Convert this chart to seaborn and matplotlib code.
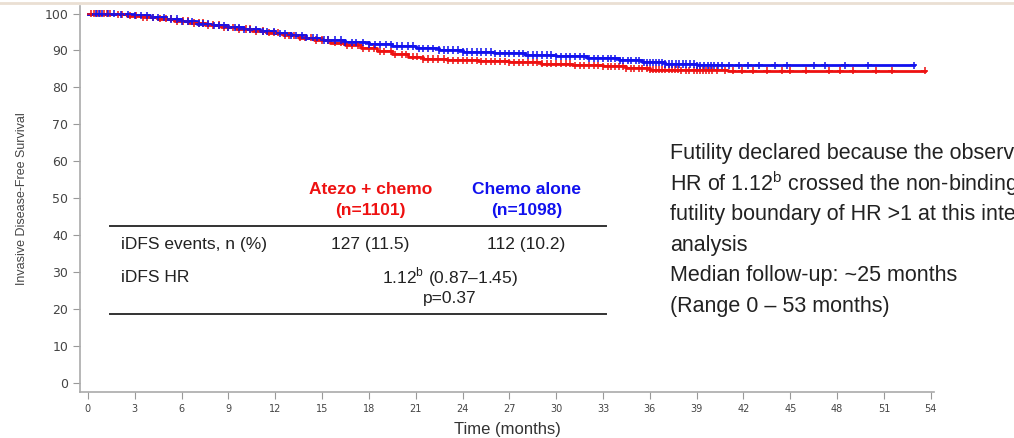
import numpy as np
import pandas as pd
import matplotlib.pyplot as plt
import seaborn as sns

# Kaplan-Meier step curves (months, % iDFS)
atezo_t = [0, 1.5, 2.5, 3.5, 4.5, 5.5, 6.5, 7.5, 8.5, 9.5, 10.5, 11.5, 12.5, 13.5, 14.5, 15.5,
           16.5, 17.5, 18.5, 19.5, 20.5, 21.5, 23, 25, 27, 29, 31, 33, 34.5, 36, 38, 41, 53.6]
atezo_s = [100, 99.8, 99.4, 99.0, 98.6, 98.0, 97.4, 96.9, 96.3, 95.8, 95.3, 94.8, 94.1, 93.5, 92.8, 92.1,
           91.4, 90.6, 89.8, 89.0, 88.3, 87.7, 87.3, 87.1, 86.8, 86.4, 86.0, 85.7, 85.2, 84.8, 84.6, 84.5, 84.5]
chemo_t = [0, 2, 3, 4, 5, 6, 7, 8, 9, 10, 11, 12, 13, 14, 15, 16.5, 18, 19.5, 21, 22.5, 24, 26,
           28, 30, 32, 34, 35.5, 37, 39, 52.9]
chemo_s = [100, 99.8, 99.5, 99.0, 98.5, 97.9, 97.3, 96.8, 96.3, 95.7, 95.2, 94.6, 94.1, 93.5, 92.8, 92.2,
           91.7, 91.2, 90.6, 90.1, 89.6, 89.2, 88.8, 88.4, 87.9, 87.3, 86.8, 86.3, 86.0, 86.0]

# censoring times (+ marks)
atezo_cens = [0.2, 0.4, 0.6, 0.8, 1.0, 1.2, 1.4, 1.9, 2.2, 2.7, 3.1, 3.5, 3.8, 4.2, 4.6, 5.0, 5.3, 5.7,
              6.1, 6.4, 6.8, 7.1, 7.4, 7.7, 8.0, 8.4, 8.7, 9.0, 9.3, 9.7, 10.1, 10.4, 10.8, 11.2, 11.6,
              11.9, 12.2, 12.6, 12.9, 13.2, 13.6, 13.9, 14.3, 14.6, 15.0, 15.4, 15.8, 16.2, 16.6, 16.9,
              17.3, 17.6, 18.0, 18.3, 18.7, 19.0, 19.4, 19.7, 20.1, 20.4, 20.8, 21.1, 21.5, 21.8, 22.1,
              22.4, 22.8, 23.1, 23.4, 23.7, 24.0, 24.3, 24.6, 24.9, 25.2, 25.5, 25.8, 26.1, 26.4, 26.7,
              27.0, 27.3, 27.6, 27.9, 28.2, 28.5, 28.8, 29.1, 29.4, 29.7, 30.0, 30.3, 30.6, 30.9, 31.2,
              31.5, 31.8, 32.1, 32.4, 32.7, 33.0, 33.3, 33.5, 33.8, 34.0, 34.3, 34.5, 34.8, 35.0, 35.3,
              35.5, 35.8, 36.0, 36.2, 36.4, 36.6, 36.8, 37.0, 37.2, 37.4, 37.6, 37.8, 38.0, 38.3, 38.5,
              38.8, 39.0, 39.2, 39.4, 39.6, 39.8, 40.0, 40.3, 40.8, 41.3, 41.9, 42.6, 43.5, 44.5, 45.0,
              46.0, 47.5, 48.2, 49.0, 50.5, 51.5, 53.6]
chemo_cens = [0.5, 0.7, 0.9, 1.3, 1.7, 2.1, 2.6, 3.0, 3.4, 3.8, 4.2, 4.5, 4.9, 5.3, 5.7, 6.0, 6.4, 6.7,
              7.1, 7.4, 7.7, 8.1, 8.4, 8.7, 9.0, 9.4, 9.7, 10.0, 10.4, 10.8, 11.2, 11.5, 11.9, 12.3,
              12.6, 13.0, 13.3, 13.7, 14.0, 14.4, 14.7, 15.1, 15.4, 15.8, 16.2, 16.5, 16.9, 17.2, 17.6,
              18.0, 18.4, 18.7, 19.1, 19.4, 19.8, 20.1, 20.5, 20.8, 21.2, 21.5, 21.8, 22.1, 22.5, 22.8,
              23.1, 23.4, 23.7, 24.0, 24.3, 24.6, 24.9, 25.2, 25.5, 25.8, 26.1, 26.4, 26.7, 27.0, 27.3,
              27.6, 27.9, 28.2, 28.5, 28.8, 29.1, 29.4, 29.7, 30.0, 30.3, 30.6, 30.9, 31.2, 31.5, 31.8,
              32.1, 32.4, 32.7, 33.0, 33.3, 33.5, 33.8, 34.1, 34.3, 34.6, 34.8, 35.1, 35.3, 35.6, 35.8,
              36.0, 36.2, 36.4, 36.6, 36.8, 37.0, 37.2, 37.4, 37.7, 37.9, 38.1, 38.3, 38.6, 38.8, 39.0,
              39.2, 39.5, 39.7, 39.9, 40.1, 40.4, 40.6, 41.1, 41.7, 42.3, 43.0, 44.0, 44.8, 46.5, 47.2,
              48.5, 50.0, 52.9]

arms = ["Atezo + chemo", "Chemo alone"]
arm_n = [1101, 1098]
arm_colors = ["#ee1111", "#1111ee"]
events = ["127 (11.5)", "112 (10.2)"]
x_ticks = list(range(0, 55, 3))
y_ticks = list(range(0, 101, 10))

plt.rcParams['font.family'] = ['Liberation Sans', 'DejaVu Sans']
plt.rcParams['mathtext.fontset'] = 'custom'
plt.rcParams['mathtext.rm'] = 'Liberation Sans'

def surv_at(t, times, surv):
    idx = np.searchsorted(times, t, side='right') - 1
    return np.asarray(surv)[idx]

curves = pd.concat([
    pd.DataFrame({'time': atezo_t, 'surv': atezo_s, 'arm': arms[0]}),
    pd.DataFrame({'time': chemo_t, 'surv': chemo_s, 'arm': arms[1]}),
])
marks = pd.concat([
    pd.DataFrame({'time': atezo_cens, 'surv': surv_at(atezo_cens, atezo_t, atezo_s), 'arm': arms[0]}),
    pd.DataFrame({'time': chemo_cens, 'surv': surv_at(chemo_cens, chemo_t, chemo_s), 'arm': arms[1]}),
])
palette = dict(zip(arms, arm_colors))

fig = plt.figure(figsize=(10.14, 4.38), dpi=100)
ax = fig.add_axes([0.079, 0.105, 0.842, 0.881])

sns.lineplot(data=curves, x='time', y='surv', hue='arm', palette=palette, drawstyle='steps-post',
             linewidth=2, legend=False, ax=ax, estimator=None, sort=False)
sns.scatterplot(data=marks, x='time', y='surv', hue='arm', palette=palette, marker='+', s=28,
                linewidth=1.3, alpha=0.85, legend=False, ax=ax, zorder=3)

ax.set_xlim(-0.5, 54.2)
ax.set_ylim(-2.4, 102)
ax.set_xticks(x_ticks)
ax.set_yticks(y_ticks)
ax.tick_params(axis='x', labelsize=7, colors='#999999', labelcolor='#444444', length=5, direction='out')
ax.tick_params(axis='y', labelsize=9, colors='#999999', labelcolor='#444444', length=5, direction='out')
for lab in ax.get_xticklabels() + ax.get_yticklabels():
    lab.set_fontfamily('DejaVu Sans')
for side in ['top', 'right']:
    ax.spines[side].set_visible(False)
for side in ['left', 'bottom']:
    ax.spines[side].set_color('#aaaaaa')
    ax.spines[side].set_linewidth(1.2)
ax.set_xlabel('Time (months)', fontsize=12, color='#333333', labelpad=6)
ax.set_ylabel('Invasive Disease-Free Survival', fontsize=9, color='#444444', labelpad=12)

# results table inside the plot
tbl_x0, tbl_x1 = 1.4, 33.2
col_x = [18.1, 28.1]
ax.plot([tbl_x0, tbl_x1], [42.4, 42.4], color='#333333', lw=1.4)
ax.plot([tbl_x0, tbl_x1], [18.6, 18.6], color='#333333', lw=1.4)
for cx, name, n, c, ev in zip(col_x, arms, arm_n, arm_colors, events):
    ax.text(cx, 52.4, name, color=c, fontsize=12.5, fontweight='bold', ha='center', va='center')
    ax.text(cx, 46.8, f"(n={n})", color=c, fontsize=12.5, fontweight='bold', ha='center', va='center')
    ax.text(cx, 37.6, ev, color='#222222', fontsize=12.5, ha='center', va='center')
ax.text(2.1, 37.6, 'iDFS events, n (%)', color='#222222', fontsize=12.5, ha='left', va='center')
ax.text(2.1, 28.6, 'iDFS HR', color='#222222', fontsize=12.5, ha='left', va='center')
ax.text(23.2, 28.6, r'1.12$^{\mathrm{b}}$ (0.87–1.45)', color='#222222', fontsize=12.5, ha='center', va='center')
ax.text(23.2, 23.0, 'p=0.37', color='#222222', fontsize=12.5, ha='center', va='center')

# side note; like the slide, it runs past the right edge
notes = ["Futility declared because the observed",
         r"HR of 1.12$^{\mathrm{b}}$ crossed the non-binding",
         "futility boundary of HR >1 at this interim",
         "analysis",
         "Median follow-up: ~25 months",
         "(Range 0 – 53 months)"]
for i, line in enumerate(notes):
    fig.text(670 / 1014, 1 - (153 + i * 30.7) / 438, line, fontsize=15.5, color='#222222',
             ha='left', va='center')

fig.add_artist(plt.Line2D([0, 1], [0.993, 0.993], color='#eadfd3', lw=2))

fig.savefig('out.png', dpi=100)
